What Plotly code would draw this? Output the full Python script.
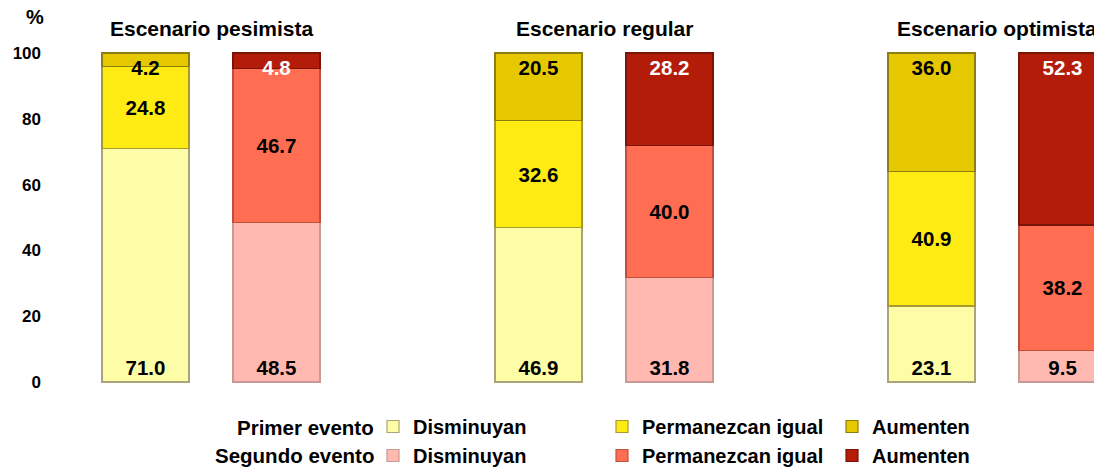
import plotly.graph_objects as go

# ---- data ----
scenarios = ["Escenario pesimista", "Escenario regular", "Escenario optimista"]
primer_x = [0, 3, 6]
segundo_x = [1, 4, 7]
primer_disminuyan = [71.0, 46.9, 23.1]
primer_permanezcan = [24.8, 32.6, 40.9]
primer_aumenten = [4.2, 20.5, 36.0]
segundo_disminuyan = [48.5, 31.8, 9.5]
segundo_permanezcan = [46.7, 40.0, 38.2]
segundo_aumenten = [4.8, 28.2, 52.3]
categories = ["Disminuyan", "Permanezcan igual", "Aumenten"]
row_labels = ["Primer evento", "Segundo evento"]
y_ticks = [0, 20, 40, 60, 80, 100]

FONT = "Liberation Sans, Arial, sans-serif"
W, H = 1094, 468


def px_x(p):
    return p / W


def px_y(p):
    return 1 - p / H


series = [
    # (name, x, values, fill, line, text color, anchor, legend, row)
    (categories[0], primer_x, primer_disminuyan, "#FDFDA8", "#ABA47A", "black", "start", "legend", 0),
    (categories[1], primer_x, primer_permanezcan, "#FFEB14", "#A89A30", "black", "middle", "legend2", 0),
    (categories[2], primer_x, primer_aumenten, "#E6C800", "#8E7E10", "black", "end", "legend3", 0),
    (categories[0], segundo_x, segundo_disminuyan, "#FFB9B1", "#C89A96", "black", "start", "legend", 1),
    (categories[1], segundo_x, segundo_permanezcan, "#FF6E52", "#C0503C", "black", "middle", "legend2", 1),
    (categories[2], segundo_x, segundo_aumenten, "#B41C0A", "#7A1408", "white", "end", "legend3", 1),
]

fig = go.Figure()
for name, xs, vals, fill, line, tcol, anchor, leg, row in series:
    fig.add_trace(go.Bar(
        x=xs, y=vals, name=name, width=0.664,
        marker=dict(color=fill, line=dict(color=line, width=1.2)),
        text=[f"{v:.1f}" for v in vals], textposition="inside",
        insidetextanchor=anchor,
        texttemplate="<b>%{text}</b>",
        textfont=dict(family=FONT, size=20.5, color=tcol),
        legend=leg, legendgroup=f"{leg}_{row}",
        cliponaxis=True,
    ))

legend_common = dict(
    orientation="v", yanchor="middle", y=px_y(441), xanchor="left",
    font=dict(family=FONT, size=20, color="black", weight="bold"),
    tracegroupgap=0, itemwidth=30, bgcolor="rgba(0,0,0,0)",
)
fig.update_layout(
    barmode="stack",
    width=W, height=H,
    margin=dict(l=0, r=0, t=0, b=0, autoexpand=False),
    plot_bgcolor="white", paper_bgcolor="white",
    font=dict(family=FONT, size=16, color="black"),
    uniformtext=dict(minsize=20, mode="show"),
    legend=dict(x=px_x(373), **legend_common),
    legend2=dict(x=px_x(602), **legend_common),
    legend3=dict(x=px_x(832), **legend_common),
    xaxis=dict(domain=[px_x(50), 1], range=[-0.729, 7.240], showticklabels=False, showgrid=False,
               zeroline=False, showline=False, fixedrange=True, automargin=False),
    yaxis=dict(domain=[px_y(388.6), px_y(46.4)], range=[-2, 102], tickvals=y_ticks,
               ticktext=[str(t) for t in y_ticks],
               showgrid=False, zeroline=False, showline=False, automargin=False,
               tickfont=dict(family=FONT, size=17, color="black", weight="bold"),
               ticklabelstandoff=8),
)

# scenario titles
for i, s in enumerate(scenarios):
    fig.add_annotation(x=(primer_x[i] + segundo_x[i]) / 2, y=px_y(28), xref="x", yref="paper",
                       text=f"<b>{s}</b>", showarrow=False, xanchor="center",
                       font=dict(family=FONT, size=21, color="black"), yanchor="middle")
# % label
fig.add_annotation(x=px_x(35), y=px_y(17), xref="paper", yref="paper", text="<b>%</b>",
                   showarrow=False, xanchor="center", yanchor="middle",
                   font=dict(family=FONT, size=20, color="black"))
# legend row labels
for j, lbl in enumerate(row_labels):
    fig.add_annotation(x=px_x(376), y=px_y(427 + 28 * j), xref="paper", yref="paper",
                       text=f"<b>{lbl}</b>", showarrow=False, xanchor="right", yanchor="middle",
                       font=dict(family=FONT, size=20.5, color="black"))

fig.write_html("out.html", config={"displayModeBar": False},
               post_script="document.body.style.margin='0';")
